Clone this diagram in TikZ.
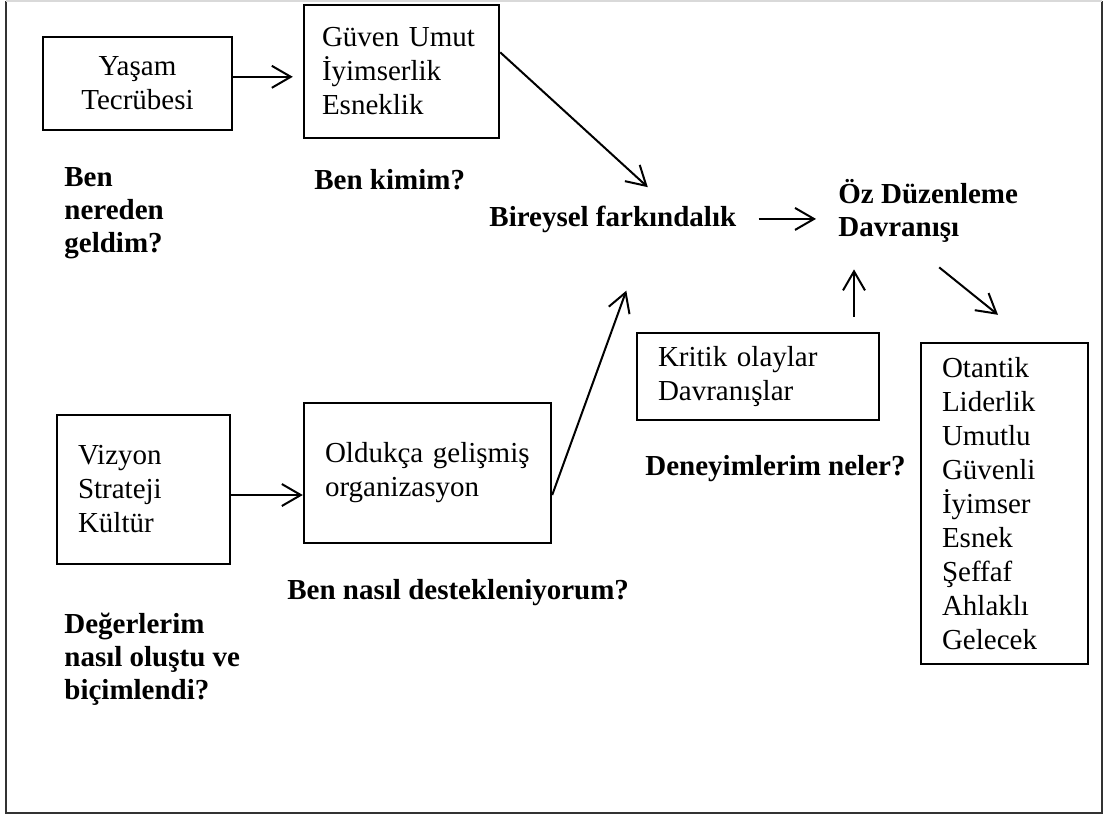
\documentclass[tikz,border=0pt]{standalone}
\usepackage{fontspec}
\setmainfont{Liberation Serif}
\usetikzlibrary{arrows.meta}

\tikzset{
  box/.style={draw,line width=1.2pt,inner xsep=10.5pt,inner ysep=0pt,align=left},
  soru/.style={font=\fontsize{14.5}{16.5}\selectfont\bfseries,inner sep=0pt,align=left,anchor=base west},
  ok/.style={->,line width=1pt},
}

\begin{document}
\begin{tikzpicture}[x=0.5pt,y=-0.5pt,>={Straight Barb[length=9.5pt,width=11pt]},font=\fontsize{14.5}{17}\selectfont]
\useasboundingbox (0,0) rectangle (1107,816);
% frame
\draw[line width=1pt,black!80] (6,1) -- (6,813) -- (1102,813) -- (1102,1);
\draw[line width=1pt,black!15] (6,1) -- (1102,1);

% boxes
\node[box,align=center,text width=73.5pt,minimum height=46.5pt] (yasam) at (137.5,83.5) {Yaşam\\Tecrübesi};
\node[box,inner xsep=9pt,text width=79.5pt,minimum height=66.5pt] (guven) at (401.5,71.5) {Güven Umut\\İyimserlik\\Esneklik};
\node[box,text width=65.5pt,minimum height=74.5pt] (vizyon) at (143.5,489.5) {Vizyon\\Strateji\\Kültür};
\node[box,text width=102.5pt,minimum height=70pt] (oldukca) at (427.5,473) {Oldukça gelişmiş\\organizasyon};
\node[box,text width=100pt,minimum height=43.5pt] (kritik) at (758,376.5) {Kritik olaylar\\Davranışlar};
\node[box,text width=62.5pt,minimum height=160.5pt] (liste) at (1004.5,503.5)
  {Otantik\\Liderlik\\Umutlu\\Güvenli\\İyimser\\Esnek\\Şeffaf\\Ahlaklı\\Gelecek};

% questions (base = last line)
\node[soru] (nereden) at (64,252) {Ben\\nereden\\geldim?};
\node[soru] (kimim) at (314,189) {Ben kimim?};
\node[soru] (bireysel) at (489,226) {Bireysel farkındalık};
\node[soru] (oz) at (838,236) {Öz Düzenleme\\Davranışı};
\node[soru] (deneyim) at (645,475) {Deneyimlerim neler?};
\node[soru] (destek) at (287,599) {Ben nasıl destekleniyorum?};
\node[soru] (degerler) at (64,699.5) {Değerlerim\\nasıl oluştu ve\\biçimlendi?};

% arrows
\draw[ok,shorten >=5pt] (yasam.4) -- (yasam.4 -| guven.west);
\draw[ok] (guven.11) -- ([shift={(35,-18)}]bireysel.north);
\draw[ok,shorten <=11pt,shorten >=11pt] (bireysel.east) -- (bireysel.east -| oz.west);
\draw[ok,shorten <=7.5pt,shorten >=13.5pt] ([xshift=48pt]kritik.north) -- ([xshift=48pt]kritik.north |- oz.south);
\draw[ok] ([shift={(11,25)}]oz.south) -- ([shift={(-6.5,-27)}]liste.north);
\draw[ok] ([yshift=-2.75pt]vizyon.east) -- ([yshift=-2.75pt]vizyon.east -| oldukca.west);
\draw[ok] (oldukca.-10) -- ([shift={(13.5,58)}]bireysel.south);
\end{tikzpicture}
\end{document}
